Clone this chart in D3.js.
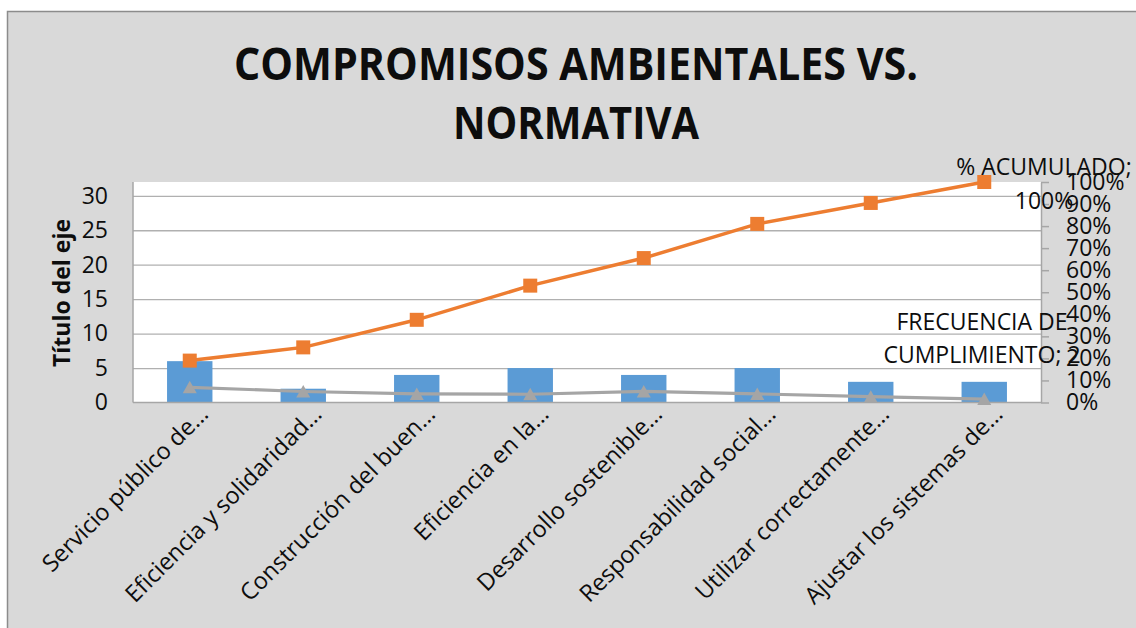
<!DOCTYPE html>
<html>
<head>
<meta charset="utf-8">
<script src="https://cdn.jsdelivr.net/npm/d3@7"></script>
<style>
  body { margin: 0; background: #fff; }
  text { font-family: "Open Sans", sans-serif; fill: #0d0d0d; }
</style>
</head>
<body>
<div id="chart"></div>
<script>
// data
var categorias = ["Servicio público de…", "Eficiencia y solidaridad…", "Construcción del buen…",
  "Eficiencia en la…", "Desarrollo sostenible…", "Responsabilidad social…",
  "Utilizar correctamente…", "Ajustar los sistemas de…"];
var frecuencia = [6, 2, 4, 5, 4, 5, 3, 3];                                  // bars, left axis
var acumulado = [0.19, 0.25, 0.375, 0.53, 0.655, 0.81, 0.905, 1.0];          // orange, right axis
var cumplimiento = [2.2, 1.6, 1.25, 1.2, 1.6, 1.25, 0.85, 0.5];              // gray, left axis
var ticksIzq = [0, 5, 10, 15, 20, 25, 30];
var ticksDer = [0, 0.1, 0.2, 0.3, 0.4, 0.5, 0.6, 0.7, 0.8, 0.9, 1.0];
var tituloLineas = ["COMPROMISOS AMBIENTALES VS.", "NORMATIVA"];

var width = 1136, height = 628;
var pLeft = 133, pRight = 1041, pTop = 182, pBottom = 402.5;

var svg = d3.select("#chart").append("svg")
  .attr("width", width).attr("height", height);

// chart area background + border
svg.append("rect").attr("x", 7.5).attr("y", 11.5).attr("width", width).attr("height", height)
  .attr("fill", "#d9d9d9").attr("stroke", "#8c8c8c").attr("stroke-width", 1.5);

svg.append("rect").attr("x", pLeft).attr("y", pTop)
  .attr("width", pRight - pLeft).attr("height", pBottom - pTop).attr("fill", "#fff");

var x = d3.scaleBand().domain(categorias).range([pLeft, pRight])
  .paddingInner(0.6).paddingOuter(0.3);
var yL = d3.scaleLinear().domain([0, 32]).range([pBottom, pTop]);
var yR = d3.scaleLinear().domain([0, 1]).range([pBottom, pTop]);

// gridlines
svg.append("g")
  .attr("transform", `translate(${pLeft},0)`)
  .call(d3.axisLeft(yL).tickValues(ticksIzq.slice(1)).tickSize(-(pRight - pLeft)).tickFormat(""))
  .call(g => g.select(".domain").remove())
  .call(g => g.selectAll("line").attr("stroke", "#b0b0b0").attr("stroke-width", 1.3));

// bars
svg.append("g").selectAll("rect")
  .data(frecuencia)
  .join("rect")
    .attr("x", (d, i) => x(categorias[i]))
    .attr("y", d => yL(d))
    .attr("width", x.bandwidth())
    .attr("height", d => yL(0) - yL(d))
    .attr("fill", "#5b9bd5");

// axes
svg.append("g")
  .attr("transform", `translate(${pLeft},0)`)
  .call(d3.axisLeft(yL).tickValues(ticksIzq).tickSize(0).tickPadding(25).tickSizeOuter(0))
  .call(g => g.select(".domain").remove())
  .call(g => g.selectAll("text").attr("font-size", 23).attr("font-family", "Open Sans").attr("fill", "#0d0d0d"));

svg.append("line").attr("x1", pLeft).attr("x2", pLeft).attr("y1", pTop).attr("y2", pBottom)
  .attr("stroke", "#a6a6a6").attr("stroke-width", 1.5);
svg.append("line").attr("x1", pLeft).attr("x2", pRight).attr("y1", pBottom).attr("y2", pBottom)
  .attr("stroke", "#a6a6a6").attr("stroke-width", 1.5);

svg.append("g")
  .attr("transform", `translate(${pRight},0)`)
  .call(d3.axisRight(yR).tickValues(ticksDer).tickSize(8).tickPadding(17).tickSizeOuter(0)
    .tickFormat(d3.format(".0%")))
  .call(g => g.select(".domain").attr("stroke", "#a6a6a6").attr("stroke-width", 1.5))
  .call(g => g.selectAll("line").attr("stroke", "#a6a6a6").attr("stroke-width", 1.5))
  .call(g => g.selectAll("text").attr("font-size", 23).attr("font-family", "Open Sans").attr("fill", "#0d0d0d"));

// gray line
var cx = (d, i) => x(categorias[i]) + x.bandwidth() / 2;
svg.append("path")
  .datum(cumplimiento)
  .attr("fill", "none").attr("stroke", "#a5a5a5").attr("stroke-width", 3.2)
  .attr("d", d3.line().x(cx).y(d => yL(d)));
svg.append("g").selectAll("path")
  .data(cumplimiento)
  .join("path")
    .attr("transform", (d, i) => `translate(${cx(d, i)},${yL(d)})`)
    .attr("d", "M0,-6.5L7,6L-7,6Z")
    .attr("fill", "#a5a5a5");

// orange line
svg.append("path")
  .datum(acumulado)
  .attr("fill", "none").attr("stroke", "#ed7d31").attr("stroke-width", 3.5)
  .attr("d", d3.line().x(cx).y(d => yR(d)));
svg.append("g").selectAll("rect")
  .data(acumulado)
  .join("rect")
    .attr("x", (d, i) => cx(d, i) - 7)
    .attr("y", d => yR(d) - 7)
    .attr("width", 14).attr("height", 14)
    .attr("fill", "#ed7d31");

// category labels
svg.append("g").selectAll("text")
  .data(categorias)
  .join("text")
    .attr("transform", d => `translate(${x(d) + x.bandwidth() / 2 + 20},${pBottom + 13}) rotate(-45)`)
    .attr("text-anchor", "end")
    .attr("font-size", 23.5)
    .text(d => d);

// axis title
svg.append("text")
  .attr("transform", `translate(70,293) rotate(-90)`)
  .attr("text-anchor", "middle")
  .attr("font-size", 23).attr("font-weight", "bold")
  .text("Título del eje");

// title
var titleWidths = [684, 246];
svg.append("g").selectAll("text")
  .data(tituloLineas)
  .join("text")
    .attr("x", 576)
    .attr("y", (d, i) => 80 + i * 59)
    .attr("text-anchor", "middle")
    .attr("font-size", 45).attr("font-weight", "bold")
    .attr("textLength", (d, i) => titleWidths[i])
    .attr("lengthAdjust", "spacingAndGlyphs")
    .text(d => d);

// data labels
svg.append("text").attr("text-anchor", "middle").attr("font-size", 23)
  .selectAll("tspan")
  .data(["% ACUMULADO;", "100%"])
  .join("tspan")
    .attr("x", 1044).attr("y", (d, i) => 175 + i * 34)
    .text(d => d);

svg.append("text").attr("text-anchor", "middle").attr("font-size", 23)
  .selectAll("tspan")
  .data(["FRECUENCIA DE", "CUMPLIMIENTO; 2"])
  .join("tspan")
    .attr("x", 982).attr("y", (d, i) => 330 + i * 33)
    .text(d => d);
</script>
</body>
</html>
